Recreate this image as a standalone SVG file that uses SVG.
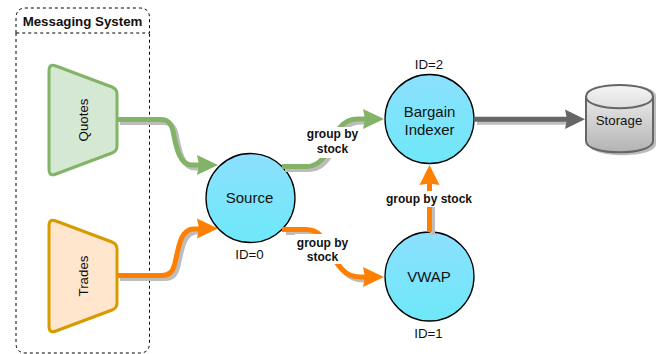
<svg xmlns="http://www.w3.org/2000/svg" width="664" height="354" viewBox="0 0 664 354">
  <defs>
    <linearGradient id="ball" x1="0" y1="0" x2="0" y2="1"><stop offset="0" stop-color="#8ce0ff"/><stop offset="1" stop-color="#6ee8f8"/></linearGradient>
    <linearGradient id="disk" x1="0" y1="0" x2="0" y2="1"><stop offset="0" stop-color="#f5f5f5"/><stop offset="1" stop-color="#b3b3b3"/></linearGradient>
  </defs>
  <style>
    text { font-family: "Liberation Sans", Arial, sans-serif; fill: #111; text-anchor: middle; }
    .ball { fill: url(#ball); stroke: #000; stroke-width: 1.3; }
    .t15 { font-size: 15px; }
    .t13 { font-size: 13.3px; }
    .lab { font-size: 12px; font-weight: bold; }
    .line { fill: none; stroke-width: 5; }
    .shadow { stroke: #bdbdbd; fill: none; stroke-width: 5; }
    .bg { fill: #fff; }
  </style>

  <g id="messaging-system">
    <path d="M16 33V18Q16 8 26 8H139.500Q149.500 8 149.500 18V33Z" fill="none" stroke="#000" stroke-width="1" stroke-dasharray="3 3"/>
    <path d="M16 33V343Q16 353 26 353H139.500Q149.500 353 149.500 343V33" fill="none" stroke="#000" stroke-width="1" stroke-dasharray="3 3"/>
    <text x="82.500" y="26" font-size="13.300" font-weight="bold">Messaging System</text>
  </g>

  <g id="quotes">
    <path d="M49 71Q49 63 56 66L112 87Q117 89 117 94V146Q117 151 112 153L56 174Q49 177 49 169Z" fill="#d5e8d4" stroke="#82b366" stroke-width="3"/>
    <text class="t13" transform="translate(87.500 120) rotate(-90)">Quotes</text>
  </g>
  <g id="trades">
    <path d="M49 226Q49 218 56 221L112 242Q117 244 117 249V303Q117 308 112 310L56 331Q49 334 49 326Z" fill="#ffe6cc" stroke="#d79b00" stroke-width="3"/>
    <text class="t13" transform="translate(87.500 276) rotate(-90)">Trades</text>
  </g>
  <g id="source">
    <circle class="ball" cx="250.500" cy="198" r="44.500"/>
    <text class="t15" x="249.500" y="203">Source</text>
    <text class="t13" x="249.500" y="259">ID=0</text>
  </g>
  <g id="bargain-indexer">
    <circle class="ball" cx="429.500" cy="119" r="44.500"/>
    <text class="t15" x="429.500" y="117">Bargain</text>
    <text class="t15" x="429.500" y="135">Indexer</text>
    <text class="t13" x="429" y="69">ID=2</text>
  </g>
  <g id="vwap">
    <circle class="ball" cx="429.500" cy="276.500" r="44.500"/>
    <text class="t15" x="429" y="282">VWAP</text>
    <text class="t13" x="428.500" y="338">ID=1</text>
  </g>
  <g id="storage">
    <path d="M589 96C589 81 656 81 656 96V144C656 159 589 159 589 144Z" fill="#bdbdbd"/>
    <path d="M586 96.500C586 81 653 81 653 96.500V141C653 156 586 156 586 141Z" fill="url(#disk)" stroke="#666" stroke-width="2"/>
    <path d="M586 96.500C586 112 653 112 653 96.500" fill="none" stroke="#666" stroke-width="2"/>
    <text class="t13" x="619" y="125">Storage</text>
  </g>

  <g id="connectors">
    <g transform="translate(3 3)">
      <path class="shadow" d="M117 119.500H160C168 119.500 171 123 173 131C176 146 179 165 192 165H197"/>
      <path class="shadow" d="M117 275.500H162C170 275.500 173 271 175 263C179 245 181 229 194 229H197"/>
      <path class="shadow" d="M282 166.500H306C316 166.500 322 161 329 150C336 131 342 119 358 119H362"/>
      <path class="shadow" d="M283 229.500H306C318 229.500 324 238 330 250C337 266 345 277 360 277H362"/>
      <path class="shadow" d="M429.500 232V188"/>
      <path class="shadow" d="M474 119.300H565"/>
    </g>
    <path class="line" stroke="#82b366" d="M117 119.500H160C168 119.500 171 123 173 131C176 146 179 165 192 165H200"/>
    <polygon fill="#82b366" points="218,165 197,155 199,165 197,175"/>
    <path class="line" stroke="#ff8000" d="M117 275.500H162C170 275.500 173 271 175 263C179 245 181 229 194 229H200"/>
    <polygon fill="#ff8000" points="218,228.500 197,218.500 199,228.500 197,238.500"/>
    <path class="line" stroke="#82b366" d="M282 166.500H306C316 166.500 322 161 329 150C336 131 342 119 358 119H365"/>
    <polygon fill="#82b366" points="384,119 363,109 365,119 363,129"/>
    <path class="line" stroke="#ff8000" d="M282 229.500H306C318 229.500 324 238 330 250C337 266 345 277 360 277H365"/>
    <polygon fill="#ff8000" points="384,277 363,267 365,277 363,287"/>
    <path class="line" stroke="#ff8000" d="M429.500 232V183"/>
    <polygon fill="#ff8000" points="429.500,165 419.500,185 429.500,183.500 439.500,185"/>
    <path class="line" stroke="#666" d="M474 119.300H568"/>
    <polygon fill="#666" points="585,119.300 565,109.500 567,119.300 565,129"/>
    <rect class="bg" x="305" y="127" width="55" height="31"/>
    <text class="lab" x="332.500" y="138">group by</text>
    <text class="lab" x="332.500" y="153">stock</text>
    <rect class="bg" x="295" y="234" width="55" height="30"/>
    <text class="lab" x="322.500" y="247">group by</text>
    <text class="lab" x="322.500" y="261">stock</text>
    <rect class="bg" x="384" y="191" width="90" height="16"/>
    <text class="lab" x="429" y="203">group by stock</text>
  </g>
</svg>
